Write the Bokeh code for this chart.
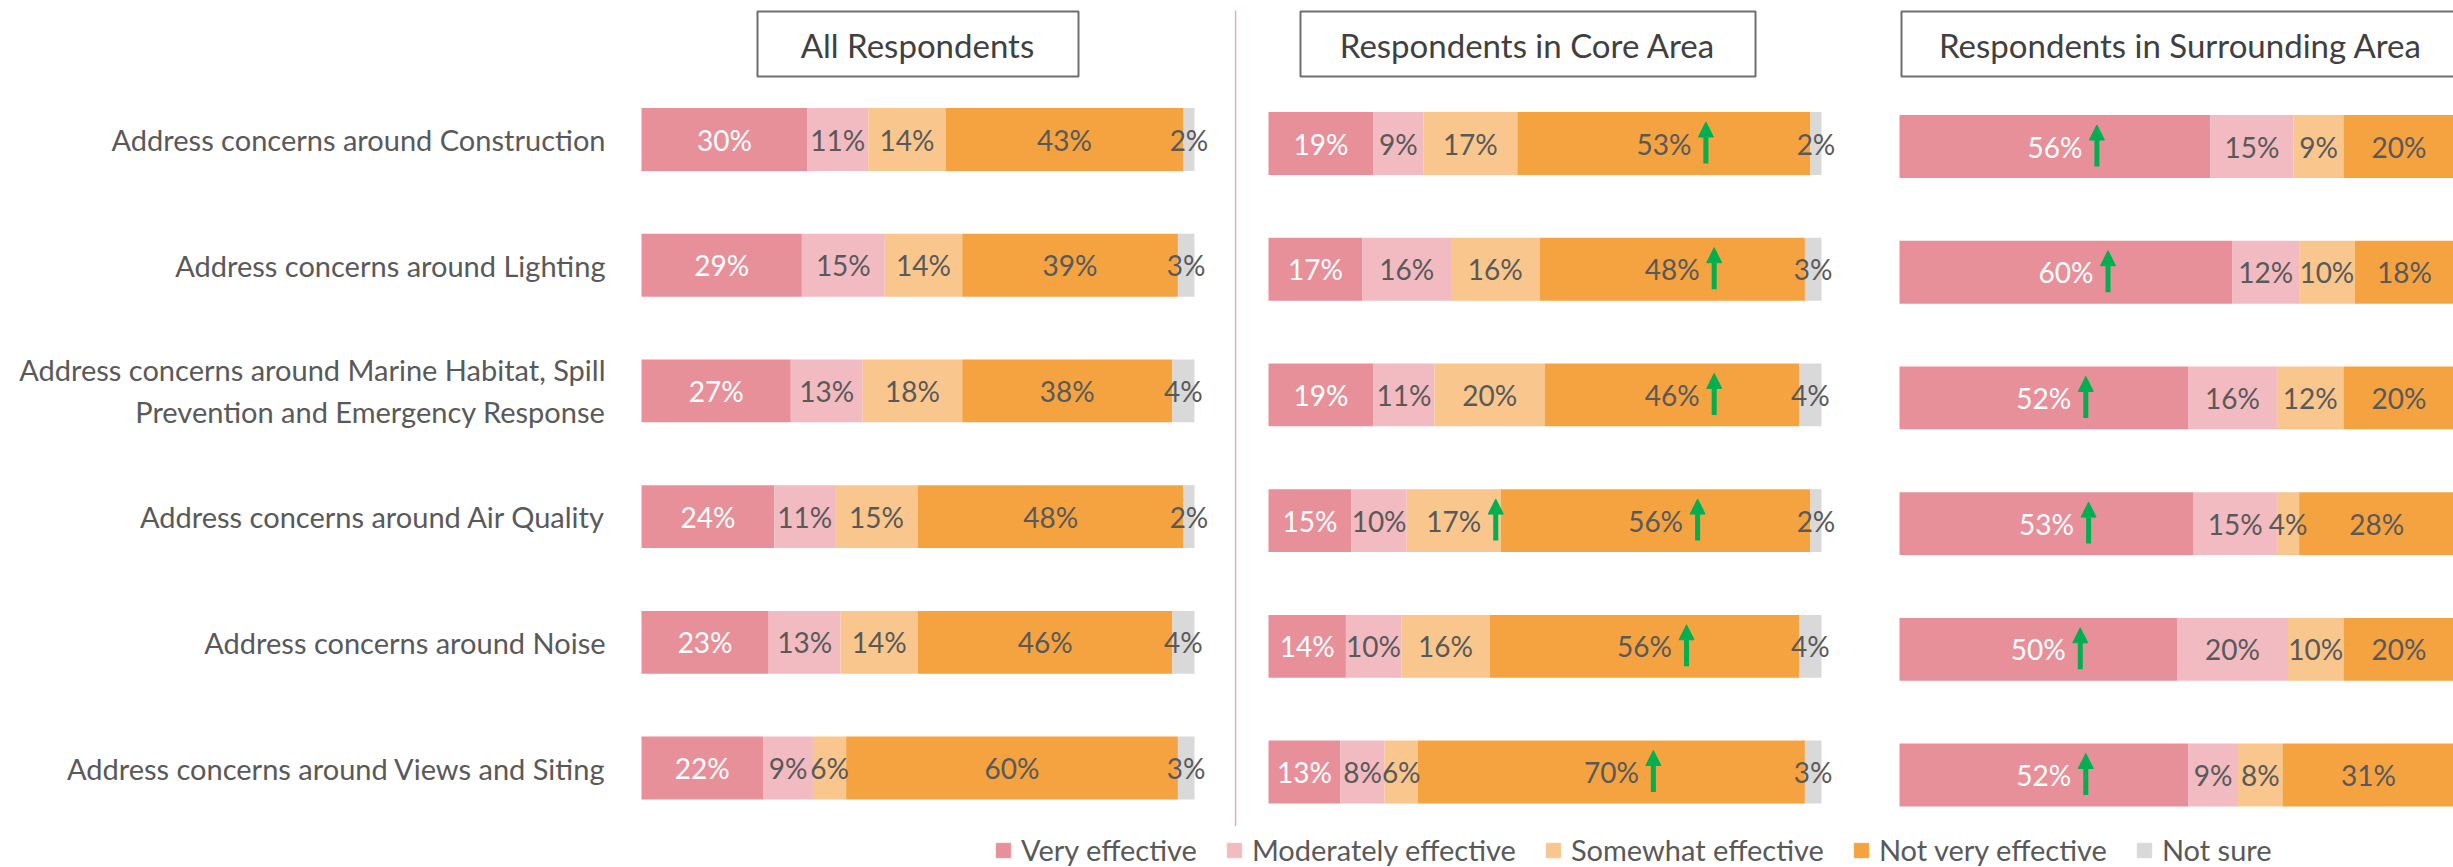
from bokeh.plotting import figure
from bokeh.layouts import row, column
from bokeh.models import Range1d, ColumnDataSource, Arrow, NormalHead, Legend, LegendItem
from bokeh.embed import file_html
from bokeh.resources import INLINE
from bokeh.core.properties import value

# ---------------- data ----------------
categories = [
    "Address concerns around Construction",
    "Address concerns around Lighting",
    "Address concerns around Marine Habitat, Spill\nPrevention and Emergency Response",
    "Address concerns around Air Quality",
    "Address concerns around Noise",
    "Address concerns around Views and Siting",
]
series = ["Very effective", "Moderately effective", "Somewhat effective",
          "Not very effective", "Not sure"]
colors = ["#E8909A", "#F2BBC1", "#F9C78D", "#F5A340", "#D9D9D9"]
panel_titles = ["All Respondents", "Respondents in Core Area",
                "Respondents in Surrounding Area"]

all_very = [30, 29, 27, 24, 23, 22]
all_moderately = [11, 15, 13, 11, 13, 9]
all_somewhat = [14, 14, 18, 15, 14, 6]
all_not_very = [43, 39, 38, 48, 46, 60]
all_not_sure = [2, 3, 4, 2, 4, 3]

core_very = [19, 17, 19, 15, 14, 13]
core_moderately = [9, 16, 11, 10, 10, 8]
core_somewhat = [17, 16, 20, 17, 16, 6]
core_not_very = [53, 48, 46, 56, 56, 70]
core_not_sure = [2, 3, 4, 2, 4, 3]

surr_very = [56, 60, 52, 53, 50, 52]
surr_moderately = [15, 12, 16, 15, 20, 9]
surr_somewhat = [9, 10, 12, 4, 10, 8]
surr_not_very = [20, 18, 20, 28, 20, 31]
surr_not_sure = [0, 0, 0, 0, 0, 0]

# significant increase markers (1 = green up arrow)
core_up_somewhat = [0, 0, 0, 1, 0, 0]
core_up_not_very = [1, 1, 1, 1, 1, 1]
surr_up_very = [1, 1, 1, 1, 1, 1]

# ---------------- style / layout ----------------
FONT = value("Lato")
GRAY = "#595959"
GREEN = "#00B050"
FIG_TOP, FIG_BOTTOM = 0, 826          # pixel rows of the panel figures
ROW_STEP = 125.7                        # pixels between rows
BAR_H = 0.5
LABEL_SIZE = "28px"
CAT_SIZE = "29px"
TITLE_SIZE = "33px"
ARROW_DX = 42                           # px right of the segment centre


def make_panel(title, vals, ups, fig_left, fig_right, bar_left, px_per_pct,
               row0, box_left, box_right, title_cx, show_cats=False,
               divider=False):
    S = px_per_pct
    xr = Range1d((fig_left - bar_left) / S, (fig_right - bar_left) / S)
    yr = Range1d((FIG_BOTTOM - row0) / ROW_STEP, (FIG_TOP - row0) / ROW_STEP)
    p = figure(width=fig_right - fig_left, height=FIG_BOTTOM - FIG_TOP,
               x_range=xr, y_range=yr, output_backend="svg",
               toolbar_location=None, min_border=0,
               x_axis_location=None, y_axis_location=None,
               outline_line_color=None)
    p.grid.grid_line_color = None

    ys = list(range(len(categories)))
    data = {"y": ys}
    for s, v in zip(series, vals):
        data[s] = v
    src = ColumnDataSource(data)
    p.hbar_stack(series, y="y", height=BAR_H, fill_color=colors,
                 line_color=None, source=src)

    # value labels
    lx, ly, lt, lc = [], [], [], []
    ax, ay0, ay1 = [], [], []
    for i, v in enumerate(vals):
        for j in ys:
            left = sum(vals[k][j] for k in range(i))
            c = left + v[j] / 2
            if v[j] > 0:
                lx.append(c)
                ly.append(j)
                lt.append(f"{v[j]}%")
                lc.append("white" if i == 0 else GRAY)
            if i in ups and ups[i][j]:
                ax.append(c + ARROW_DX / S)
                ay0.append(j + 20 / ROW_STEP)
                ay1.append(j - 21.5 / ROW_STEP)
    p.text(x=lx, y=ly, text=lt, text_color=lc, text_align="center",
           text_baseline="middle", text_font=FONT, text_font_size=LABEL_SIZE)

    if ax:
        asrc = ColumnDataSource(dict(x=ax, y0=ay0, y1=ay1))
        p.add_layout(Arrow(end=NormalHead(size=15, fill_color=GREEN,
                                          line_color=GREEN, line_width=1),
                           x_start="x", y_start="y0", x_end="x", y_end="y1",
                           source=asrc, line_color=GREEN, line_width=5))

    # title box
    p.quad(left=[(box_left - bar_left) / S], right=[(box_right - bar_left) / S],
           top=[(11 - row0) / ROW_STEP], bottom=[(76 - row0) / ROW_STEP],
           fill_color="white", line_color="#6E6E6E", line_width=2)
    p.text(x=[(title_cx - bar_left) / S], y=[(44 - row0) / ROW_STEP],
           text=[title], text_align="center", text_baseline="middle",
           text_font=FONT, text_font_size=TITLE_SIZE, text_color="#404040")

    if show_cats:
        p.text(x=[0] * len(ys), y=ys, text=categories, x_offset=-36,
               text_align="right", text_baseline="middle", text_font=FONT,
               text_font_size=CAT_SIZE, text_color=GRAY, text_line_height=1.2)

    if divider:
        p.segment(x0=[xr.start + 1 / S], x1=[xr.start + 1 / S],
                  y0=[(10 - row0) / ROW_STEP], y1=[(826 - row0) / ROW_STEP],
                  line_color="#EBA7AF", line_width=1.5)
    return p


p1 = make_panel(panel_titles[0],
                [all_very, all_moderately, all_somewhat, all_not_very, all_not_sure],
                {}, 0, 1234, 641, 5.53, 139, 757, 1078, 917, show_cats=True)
p2 = make_panel(panel_titles[1],
                [core_very, core_moderately, core_somewhat, core_not_very, core_not_sure],
                {2: core_up_somewhat, 3: core_up_not_very},
                1234, 1862, 1268, 5.53, 143, 1300, 1755, 1527, divider=True)
p3 = make_panel(panel_titles[2],
                [surr_very, surr_moderately, surr_somewhat, surr_not_very, surr_not_sure],
                {0: surr_up_very},
                1862, 2453, 1899, 5.55, 146, 1901, 2462, 2180)

# legend strip
leg = figure(width=2453, height=41, x_range=Range1d(0, 2453), y_range=Range1d(0, 41),
             output_backend="svg", toolbar_location=None, min_border=0,
             x_axis_location=None, y_axis_location=None, outline_line_color=None)
leg.grid.grid_line_color = None
items = []
for s, c in zip(series, colors):
    r = leg.vbar(x=[-100], top=[-100], width=1, fill_color=c, line_color=c)
    items.append(LegendItem(label=s, renderers=[r]))
legend = Legend(items=items, orientation="horizontal", location=(994, 0),
                glyph_width=18, glyph_height=18, label_standoff=9, spacing=28,
                padding=0, margin=0, border_line_color=None,
                background_fill_alpha=0, label_text_font="Lato",
                label_text_font_size="29px", label_text_color=GRAY)
leg.add_layout(legend)

layout = column(row(p1, p2, p3), leg)
open("out.html", "w").write(file_html(layout, INLINE))
